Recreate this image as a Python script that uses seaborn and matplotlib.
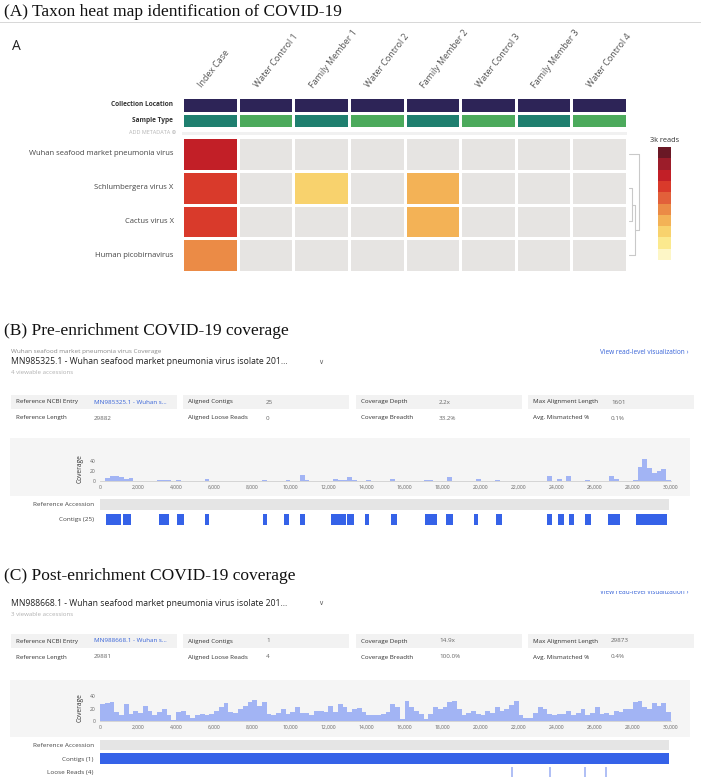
import numpy as np
import pandas as pd
import matplotlib
matplotlib.use("Agg")
import matplotlib.pyplot as plt
from matplotlib.colors import ListedColormap
from matplotlib.patches import Rectangle
import seaborn as sns

W, H = 701, 779
nan = np.nan

# ---------------- data ----------------
samples = ["Index Case", "Water Control 1", "Family Member 1", "Water Control 2",
           "Family Member 2", "Water Control 3", "Family Member 3", "Water Control 4"]
taxa = ["Wuhan seafood market pneumonia virus", "Schlumbergera virus X",
        "Cactus virus X", "Human picobirnavirus"]
meta_rows = ["Collection Location", "Sample Type"]
collection_code = [0, 0, 0, 0, 0, 0, 0, 0]
sample_type_code = [1, 2, 1, 2, 1, 2, 1, 2]

# reads per sample (nan = not found), colour scale goes up to 3k reads
reads_wuhan = [2250, nan, nan, nan, nan, nan, nan, nan]
reads_schlumbergera = [1950, nan, 750, nan, 1050, nan, nan, nan]
reads_cactus = [1950, nan, nan, nan, 1050, nan, nan, nan]
reads_picobirna = [1350, nan, nan, nan, nan, nan, nan, nan]
max_reads = 3000

scale_colors = ["#fdf6c6", "#fbe98e", "#f8d26d", "#f3b256", "#eb8b46",
                "#e2603a", "#d93a2b", "#c21f27", "#9c1d2a", "#6a1825"]
meta_colors = ["#2d2457", "#1f7f6f", "#4caa5c"]

# dendrogram merges (scipy style: new nodes get ids 4, 5, 6)
linkage = [(1, 2, 4.0), (4, 3, 7.0), (0, 5, 11.0)]

# coverage, 250 bp bins
bin_size = 250
cov_pre = [0, 6, 10, 11, 8, 4, 7, 0, 0, 0, 0, 0, 3, 3, 2, 0, 2, 1, 0, 0,
           0, 0, 5, 0, 0, 0, 0, 0, 0, 0, 0, 0, 0, 0, 2, 0, 0, 0, 0, 3,
           0, 0, 12, 3, 0, 0, 0, 0, 0, 5, 2, 3, 8, 2, 0, 0, 2, 0, 0, 0,
           0, 4, 0, 0, 0, 0, 0, 0, 3, 3, 1, 0, 0, 8, 0, 0, 0, 0, 0, 4,
           0, 0, 0, 2, 0, 0, 0, 0, 0, 0, 0, 0, 0, 0, 10, 0, 4, 0, 10, 0,
           0, 0, 3, 0, 0, 0, 0, 10, 4, 0, 0, 0, 3, 28, 44, 26, 17, 20, 24, 2]
cov_post = [28, 29, 31, 15, 9, 28, 12, 17, 13, 25, 17, 9, 15, 20, 9, 2, 15, 17, 9, 5,
            10, 12, 10, 12, 17, 23, 30, 15, 13, 20, 25, 31, 35, 25, 31, 12, 10, 13, 20, 12,
            15, 23, 13, 13, 9, 17, 17, 15, 25, 15, 28, 23, 15, 20, 21, 15, 10, 10, 10, 12,
            15, 28, 23, 4, 32, 23, 17, 12, 3, 12, 23, 20, 23, 31, 33, 19, 9, 13, 17, 12,
            9, 17, 13, 23, 17, 20, 26, 33, 10, 5, 5, 13, 23, 20, 12, 9, 12, 12, 17, 10,
            13, 20, 10, 13, 23, 12, 13, 10, 17, 15, 19, 20, 31, 32, 23, 19, 30, 25, 30, 15]

contig_start_pre = [330, 700, 1200, 3103, 4044, 5502, 8558, 9687, 10510, 12132, 12579, 12955,
                    13942, 15282, 17069, 17400, 18198, 19655, 20831, 23511, 24052, 24664,
                    25463, 26709, 28170]
contig_end_pre = [700, 1082, 1646, 3621, 4397, 5714, 8770, 9945, 10768, 12532, 12908, 13354,
                  14154, 15611, 17400, 17680, 18527, 19867, 21113, 23746, 24358, 24899,
                  25792, 27320, 29769]
contig_start_post = [8]
contig_end_post = [29873]
loose_reads_post = [21660, 23660, 25480, 26580]
ref_len_pre = 29882
ref_len_post = 29881

metrics_pre = [("Reference NCBI Entry", "MN985325.1 - Wuhan s..."), ("Aligned Contigs", "25"),
               ("Coverage Depth", "2.2x"), ("Max Alignment Length", "1601"),
               ("Reference Length", "29882"), ("Aligned Loose Reads", "0"),
               ("Coverage Breadth", "33.2%"), ("Avg. Mismatched %", "0.1%")]
metrics_post = [("Reference NCBI Entry", "MN988668.1 - Wuhan s..."), ("Aligned Contigs", "1"),
                ("Coverage Depth", "14.9x"), ("Max Alignment Length", "29873"),
                ("Reference Length", "29881"), ("Aligned Loose Reads", "4"),
                ("Coverage Breadth", "100.0%"), ("Avg. Mismatched %", "0.4%")]

# ---------------- style ----------------
sns.set_style("white")
plt.rcParams["font.family"] = ["Open Sans", "DejaVu Sans"]
BLUE = "#3763d8"

fig = plt.figure(figsize=(W / 100, H / 100), dpi=100)


def box(x0, y0, x1, y1):
    return [x0 / W, 1 - y1 / H, (x1 - x0) / W, (y1 - y0) / H]


def ftext(x, y, s, **kw):
    kw.setdefault("va", "center")
    fig.text(x / W, 1 - y / H, s, **kw)


def frect(x0, y0, x1, y1, color, z=-1):
    fig.add_artist(Rectangle((x0 / W, 1 - y1 / H), (x1 - x0) / W, (y1 - y0) / H,
                             transform=fig.transFigure, color=color, lw=0, zorder=z))


serif = dict(family="Liberation Serif", fontsize=12.5, color="#111")

# ---------------- (A) heat map ----------------
ftext(4, 12, "(A) Taxon heat map identification of COVID-19", **serif)
frect(0, 21.5, W, 22.5, "#d8d8d8")
ftext(12, 46, "A", fontsize=10, color="#222")

ax_meta = fig.add_axes(box(182, 97, 627, 128))
meta = np.array([collection_code, sample_type_code])
sns.heatmap(meta, ax=ax_meta, cmap=ListedColormap(meta_colors), vmin=-0.5, vmax=2.5,
            cbar=False, linewidths=0.8, linecolor="white",
            xticklabels=False, yticklabels=meta_rows)
ax_meta.tick_params(left=False, pad=3)
for t in ax_meta.get_yticklabels():
    t.set(rotation=0, fontsize=4.7, fontweight="bold", color="#333")
for i, s in enumerate(samples):
    ax_meta.text(i + 0.36, -0.55, s, rotation=52, ha="left", va="baseline",
                 rotation_mode="anchor", fontsize=6.4, color="#555")

frect(182, 131.5, 627, 134.5, "#f1f1f1")
ftext(176, 133, "ADD METADATA \u2295", ha="right", fontsize=4, color="#b5b5b5")

ax_hm = fig.add_axes(box(182, 137, 627, 272))
reads = np.array([reads_wuhan, reads_schlumbergera, reads_cactus, reads_picobirna])
sns.heatmap(np.zeros_like(reads), ax=ax_hm, cmap=ListedColormap(["#e6e4e2"]),
            cbar=False, linewidths=0.8, linecolor="white",
            xticklabels=False, yticklabels=taxa)
sns.heatmap(reads, ax=ax_hm, mask=np.isnan(reads), cmap=ListedColormap(scale_colors),
            vmin=0, vmax=max_reads, cbar=False, linewidths=0.8, linecolor="white",
            xticklabels=False, yticklabels=taxa)
ax_hm.tick_params(left=False, pad=2.5)
for t in ax_hm.get_yticklabels():
    t.set(rotation=0, fontsize=5.5, color="#444")

# dendrogram
ax_d = fig.add_axes(box(628, 137, 648, 272))
ax_d.set_xlim(0, 20)
ax_d.set_ylim(len(taxa), 0)
ax_d.axis("off")
ys = [i + 0.5 for i in range(len(taxa))]
hs = [0.5] * len(taxa)
for a, b, h in linkage:
    for n in (a, b):
        ax_d.plot([hs[n], h], [ys[n], ys[n]], color="#c9c9c9", lw=0.8)
    ax_d.plot([h, h], [ys[a], ys[b]], color="#c9c9c9", lw=0.8)
    ys.append((ys[a] + ys[b]) / 2)
    hs.append(h)

# colour scale
ax_cb = fig.add_axes(box(658, 147, 671, 260))
levels = np.arange(len(scale_colors))[::-1].reshape(-1, 1)
sns.heatmap(levels, ax=ax_cb, cmap=ListedColormap(scale_colors), cbar=False,
            xticklabels=False, yticklabels=False)
ftext(665, 140, "3k reads", ha="center", fontsize=5.3, color="#333")


# ---------------- coverage panels ----------------
def metrics(y1, y2, items):
    lefts = [11, 183, 356, 528]
    for j, x in enumerate(lefts):
        frect(x, y1 - 7, x + 166, y1 + 7, "#f2f2f2")
        for k, yy in enumerate((y1, y2)):
            lab, val = items[k * 4 + j]
            ftext(x + 5, yy, lab, fontsize=4.5, color="#333")
            ftext(x + 83, yy, val, fontsize=4.5,
                  color=BLUE if (j == 0 and k == 0) else "#666")


def coverage(rect, cov, ymax):
    ax = fig.add_axes(rect)
    ax.patch.set_visible(False)
    df = pd.DataFrame({"start": np.arange(len(cov)) * bin_size + bin_size / 2,
                       "cov": cov})
    sns.histplot(data=df, x="start", weights="cov", binwidth=bin_size,
                 binrange=(0, len(cov) * bin_size), ax=ax, color="#a2b4f4",
                 alpha=1, linewidth=0)
    ax.set_xlim(0, 30000)
    ax.set_ylim(0, ymax)
    ticks = np.arange(0, 30001, 2000)
    ax.set_xticks(ticks)
    ax.set_xticklabels([f"{t:,}" for t in ticks])
    ax.set_yticks([0, 20, 40])
    ax.tick_params(axis="both", labelsize=3.6, colors="#666", length=2, width=0.4, pad=1.5)
    ax.tick_params(axis="x", length=0, pad=3)
    ax.tick_params(axis="y", color="#bbb")
    for s in ("top", "right", "left"):
        ax.spines[s].set_visible(False)
    ax.spines["bottom"].set_color("#cfcfcf")
    ax.spines["bottom"].set_linewidth(0.6)
    ax.set_ylabel("Coverage", fontsize=4.8, color="#333", labelpad=4)
    ax.set_xlabel("")


def tracks(rect, ref_len, starts, ends, loose=None):
    ax = fig.add_axes(rect)
    ax.patch.set_visible(False)
    nrows = 2 if loose is None else 3
    ax.set_xlim(0, 30000)
    ax.set_ylim(nrows - 0.5, -0.5)
    ax.broken_barh([(0, ref_len)], (-0.38, 0.76), color="#e5e5e5", lw=0)
    ax.broken_barh([(s, e - s) for s, e in zip(starts, ends)], (0.62, 0.76),
                   color="#3562e8", lw=0)
    labels = ["Reference Accession", f"Contigs ({len(starts)})"]
    if loose is not None:
        ax.vlines(loose, 1.65, 2.35, color="#9aaef2", lw=1.1)
        labels.append(f"Loose Reads ({len(loose)})")
    ax.set_yticks(range(nrows))
    ax.set_yticklabels(labels, fontsize=4.6, color="#444")
    ax.tick_params(left=False, bottom=False, labelbottom=False, pad=1)
    for s in ax.spines.values():
        s.set_visible(False)


# (B)
ftext(4, 331, "(B) Pre-enrichment COVID-19 coverage", **serif)
ftext(11, 351, "Wuhan seafood market pneumonia virus Coverage", fontsize=4.6, color="#8a8a8a")
ftext(11, 362, "MN985325.1 - Wuhan seafood market pneumonia virus isolate 201...",
      fontsize=6.2, color="#222")
ftext(318, 362, "\u2228", fontsize=5, color="#666", family="DejaVu Sans")
ftext(11, 373, "4 viewable accessions", fontsize=4.4, color="#b0b0b0")
ftext(689, 352, "View read-level visualization \u203a", ha="right", fontsize=4.7, color=BLUE)
metrics(402, 418, metrics_pre)
frect(10, 438, 690, 496, "#f5f5f5")
coverage(box(100, 456, 671, 481), cov_pre, 50)
tracks(box(100, 497, 671, 527), ref_len_pre, contig_start_pre, contig_end_pre)

# (C)
ftext(4, 576, "(C) Post-enrichment COVID-19 coverage", **serif)
ftext(11, 603, "MN988668.1 - Wuhan seafood market pneumonia virus isolate 201...",
      fontsize=6.2, color="#222")
ftext(318, 603, "\u2228", fontsize=5, color="#666", family="DejaVu Sans")
ftext(11, 614, "3 viewable accessions", fontsize=4.4, color="#b0b0b0")
ftext(689, 592, "View read-level visualization \u203a", ha="right", fontsize=4.7, color=BLUE)
frect(570, 583, 701, 590.5, "white", z=5)
metrics(641, 657, metrics_post)
frect(10, 680, 690, 737, "#f5f5f5")
coverage(box(100, 694, 671, 721), cov_post, 44)
tracks(box(100, 738, 671, 779), ref_len_post, contig_start_post, contig_end_post,
       loose_reads_post)

fig.savefig("out.png", dpi=100)
